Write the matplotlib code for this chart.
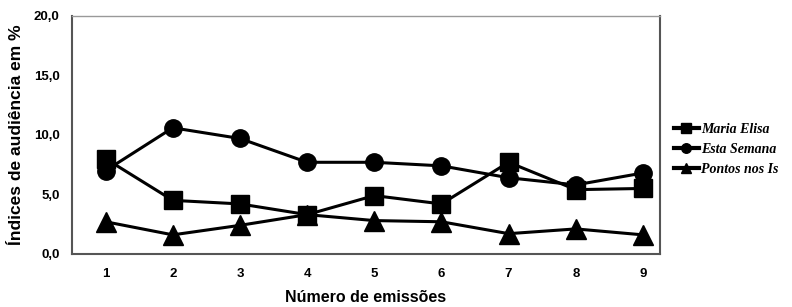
import numpy as np
import matplotlib
matplotlib.use("Agg")
import matplotlib.pyplot as plt

# dados
emissoes = [1, 2, 3, 4, 5, 6, 7, 8, 9]
maria_elisa = [8.0, 4.5, 4.2, 3.3, 4.9, 4.2, 7.7, 5.4, 5.5]
esta_semana = [7.0, 10.6, 9.7, 7.7, 7.7, 7.4, 6.4, 5.8, 6.8]
pontos_nos_is = [2.7, 1.6, 2.4, 3.3, 2.8, 2.7, 1.7, 2.1, 1.6]
series_labels = ["Maria Elisa", "Esta Semana", "Pontos nos Is"]
yticks = [0, 5, 10, 15, 20]
ytick_labels = ["0,0", "5,0", "10,0", "15,0", "20,0"]

fig = plt.figure(figsize=(7.92, 3.07), dpi=100)
ax = fig.add_axes([0.091, 0.173, 0.742, 0.775])

kw = dict(color="black", lw=2.2)
ax.plot(emissoes, maria_elisa, marker="s", ms=12.5, label=series_labels[0], **kw)
ax.plot(emissoes, esta_semana, marker="o", ms=12.5, label=series_labels[1], **kw)
ax.plot(emissoes, pontos_nos_is, marker="^", ms=14, label=series_labels[2], **kw)

ax.set_xlim(0.5, 9.25)
ax.set_ylim(0, 20)
ax.set_xticks(emissoes)
ax.set_xticklabels([str(e) for e in emissoes], fontweight="bold", fontsize=9.5,
                   family="Liberation Sans")
ax.set_yticks(yticks)
ax.set_yticklabels(ytick_labels, fontweight="bold", fontsize=9.5, family="Liberation Sans")
ax.tick_params(length=0, pad=10)
ax.tick_params(axis="y", pad=9)

for s in ["left", "bottom", "right"]:
    ax.spines[s].set_color("#555555")
    ax.spines[s].set_linewidth(1.5)
ax.spines["top"].set_color("#999999")
ax.spines["top"].set_linewidth(1.0)

ax.set_xlabel("Número de emissões", fontweight="bold", fontsize=11.5,
              family="Liberation Sans", labelpad=7)
ax.set_ylabel("Índices de audiência em %", fontweight="bold", fontsize=12.5,
              family="Liberation Sans", labelpad=7)

leg = ax.legend(loc="center left", bbox_to_anchor=(1.0, 0.44), frameon=False,
                handlelength=1.8, handletextpad=0.2, labelspacing=0.5,
                markerscale=0.55, borderaxespad=0.6,
                prop={"family": "Liberation Serif", "style": "italic",
                      "weight": "bold", "size": 10})
for h in leg.legend_handles:
    h.set_linewidth(3.0)

fig.savefig("out.png", dpi=100)
